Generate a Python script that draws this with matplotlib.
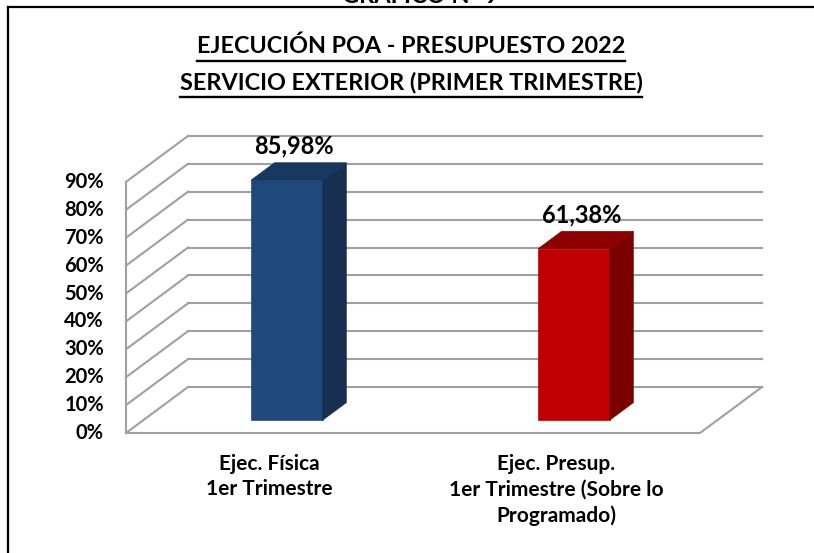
import matplotlib
matplotlib.use("Agg")
import matplotlib.pyplot as plt
from matplotlib.patches import Polygon, Rectangle
from matplotlib.lines import Line2D

# ---- data ----
categories = ["Ejec. Física\n1er Trimestre",
              "Ejec. Presup.\n1er Trimestre (Sobre lo\nProgramado)"]
values = [85.98, 61.38]
value_labels = ["85,98%", "61,38%"]
yticks = [0, 10, 20, 30, 40, 50, 60, 70, 80, 90]
title_lines = ["EJECUCIÓN POA - PRESUPUESTO 2022",
               "SERVICIO EXTERIOR (PRIMER TRIMESTRE)"]

front_colors = ["#1F497D", "#C00000"]
side_colors = ["#172F50", "#7A0000"]
top_colors = ["#18385F", "#8E0000"]

FONT = "Lato"
W, H = 814, 553
fig = plt.figure(figsize=(W / 100, H / 100), dpi=100)
fig.patch.set_facecolor("white")

# axes = front plane of the 3D box
ax_l, ax_r, ax_b, ax_t = 126, 700, 433, 154   # pixel positions (from top)
ax = fig.add_axes([ax_l / W, 1 - ax_b / H, (ax_r - ax_l) / W, (ax_b - ax_t) / H])
ax.set_xlim(-0.5, 1.5)
ax.set_ylim(0, 100)
ax.axis("off")

px_per_x = (ax_r - ax_l) / 2.0
px_per_y = (ax_b - ax_t) / 100.0
DX = 62 / px_per_x      # full depth vector in data units
DY = 46 / px_per_y
xmin, xmax = -0.5, 1.5
grid_c = "#A0A0A0"
glw = 1.5

# walls / gridlines
for lvl in yticks:
    ax.add_line(Line2D([xmin, xmin + DX], [lvl, lvl + DY], color=grid_c, lw=glw, clip_on=False, zorder=1))
    ax.add_line(Line2D([xmin + DX, xmax + DX], [lvl + DY, lvl + DY], color=grid_c, lw=glw, clip_on=False, zorder=1))
ax.add_line(Line2D([xmin, xmin], [0, yticks[-1]], color=grid_c, lw=glw, clip_on=False, zorder=1))
ax.add_line(Line2D([xmin, xmax, xmax + DX], [0, 0, DY], color=grid_c, lw=glw, clip_on=False, zorder=1))

# tick labels
for lvl in yticks:
    ax.text(xmin - 0.077, lvl, f"{lvl}%", ha="right", va="center", fontsize=14.5,
            fontweight="bold", family=FONT, color="black")

# bars (pseudo 3D)
bw = 0.25
f0, f1 = 0.28, 0.66
for i, (v, fc, sc, tc) in enumerate(zip(values, front_colors, side_colors, top_colors)):
    x0 = i - bw / 2 + f0 * DX
    x1 = i + bw / 2 + f0 * DX
    y0 = f0 * DY
    ddx = (f1 - f0) * DX
    ddy = (f1 - f0) * DY
    ax.add_patch(Rectangle((x0, y0), bw, v, facecolor=fc, edgecolor=fc, lw=0.5, zorder=3, clip_on=False))
    ax.add_patch(Polygon([(x1, y0), (x1 + ddx, y0 + ddy), (x1 + ddx, y0 + ddy + v), (x1, y0 + v)],
                         closed=True, facecolor=sc, edgecolor=sc, lw=0.5, zorder=3, clip_on=False))
    ax.add_patch(Polygon([(x0, y0 + v), (x1, y0 + v), (x1 + ddx, y0 + ddy + v), (x0 + ddx, y0 + ddy + v)],
                         closed=True, facecolor=tc, edgecolor=tc, lw=0.5, zorder=3, clip_on=False))
    ax.text(i + 0.4 * DX, v + f1 * DY + 3.2, value_labels[i], ha="center", va="baseline",
            fontsize=17, fontweight="bold", family=FONT, color="black", zorder=5)

# category labels
for i, lab in enumerate(categories):
    ax.text(i, -7.6, lab, ha="center", va="top", fontsize=15, fontweight="bold",
            family=FONT, color="black", linespacing=1.33)

# title
t1 = fig.text(411 / W, 1 - 46 / H, title_lines[0], ha="center", va="center",
              fontsize=16.8, fontweight="bold", family=FONT)
t2 = fig.text(411 / W, 1 - 82 / H, title_lines[1], ha="center", va="center",
              fontsize=16.8, fontweight="bold", family=FONT)
# cut-off heading at top (only its lower edge is visible, as in the source)
fig.text(420 / W, 1 - 3 / H, "GRÁFICO N° 9", ha="center", va="baseline",
         fontsize=17, fontweight="bold", family=FONT)

# frame
fig.add_artist(Line2D([8 / W, 8 / W], [0, 1 - 7 / H], color="black", lw=1.6))
fig.add_artist(Line2D([8 / W, 1], [1 - 7 / H, 1 - 7 / H], color="black", lw=1.6))

# underline the title lines
fig.canvas.draw()
r = fig.canvas.get_renderer()
for t, uy in [(t1, 61), (t2, 97)]:
    bb = t.get_window_extent(r)
    fig.add_artist(Line2D([bb.x0 / W, bb.x1 / W], [1 - uy / H, 1 - uy / H], color="black", lw=1.7))

fig.savefig("out.png", dpi=100, facecolor="white")
